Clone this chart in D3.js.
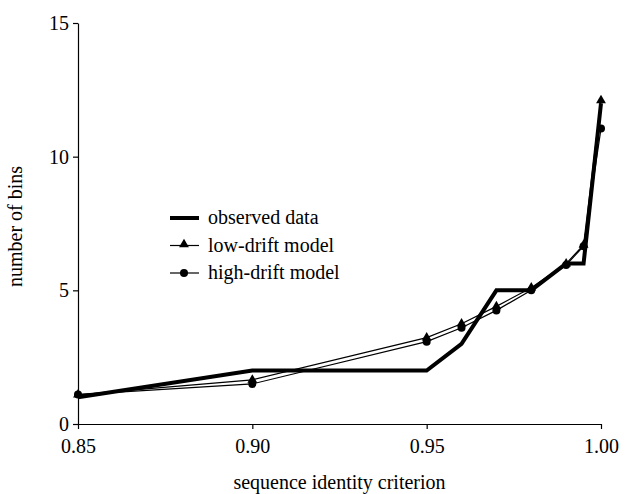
<!DOCTYPE html>
<html>
<head>
<meta charset="utf-8">
<script src="https://cdn.jsdelivr.net/npm/d3@7"></script>
<style>
  body { margin: 0; background: #fff; }
</style>
</head>
<body>
<div id="chart"></div>
<script>
// Data
var criterion = [0.85, 0.90, 0.95, 0.96, 0.97, 0.98, 0.99, 0.995, 1.00];
var observed  = [1, 2, 2, 3, 5, 5, 6, 6, 12];
var lowDrift  = [1.1, 1.65, 3.23, 3.75, 4.4, 5.1, 6.0, 6.7, 12.1];
var highDrift = [1.1, 1.5, 3.08, 3.6, 4.25, 5.0, 5.95, 6.65, 11.05];
var xTicks = [0.85, 0.90, 0.95, 1.00];
var yTicks = [0, 5, 10, 15];

var serif = "'Liberation Serif'";

// Setup
var margin = {top: 23, right: 34, bottom: 70, left: 78},
    width = 635 - margin.left - margin.right,
    height = 494 - margin.top - margin.bottom;

var svg = d3.select("#chart").append("svg")
    .attr("width", 635)
    .attr("height", 494)
  .append("g")
    .attr("transform", "translate(" + margin.left + "," + margin.top + ")");

var scaleX = d3.scaleLinear().domain([0.85, 1.00]).range([0, width]);
var scaleY = d3.scaleLinear().domain([0, 15]).range([height, 0]);

// Axes
var axisX = d3.axisBottom(scaleX).tickValues(xTicks).tickFormat(d3.format(".2f"))
    .tickSizeInner(5).tickSizeOuter(0).tickPadding(5);
var axisY = d3.axisLeft(scaleY).tickValues(yTicks).tickFormat(d3.format("d"))
    .tickSizeInner(5).tickSizeOuter(0).tickPadding(4);

var gx = svg.append("g")
    .attr("transform", "translate(0," + height + ")")
    .call(axisX);
gx.selectAll("text").attr("dy", "0.95em")
    .style("font-family", serif).style("font-size", "20px").attr("fill", "#000");

var gy = svg.append("g").call(axisY);
gy.selectAll("text")
    .style("font-family", serif).style("font-size", "20px").attr("fill", "#000");

svg.selectAll(".domain, .tick line").attr("stroke", "#000").attr("stroke-width", 1.2);

// Axis titles
svg.append("text")
    .attr("x", width / 2)
    .attr("y", height + 65)
    .attr("text-anchor", "middle")
    .style("font-family", serif).style("font-size", "20px")
    .text("sequence identity criterion");

svg.append("text")
    .attr("transform", "translate(-56," + (height / 2 + 3) + ") rotate(-90)")
    .attr("text-anchor", "middle")
    .style("font-family", serif).style("font-size", "20px")
    .text("number of bins");

// Lines
function seriesLine(vals) {
    return d3.line()
        .x(function(d, i) { return scaleX(criterion[i]); })
        .y(function(d) { return scaleY(d); })(vals);
}

svg.append("path").attr("d", seriesLine(lowDrift))
    .attr("fill", "none").attr("stroke", "#000").attr("stroke-width", 1.2);
svg.append("path").attr("d", seriesLine(highDrift))
    .attr("fill", "none").attr("stroke", "#000").attr("stroke-width", 1.2);

var tri = d3.symbol().type(d3.symbolTriangle).size(42);
svg.selectAll("path.tri")
    .data(lowDrift).enter().append("path")
    .attr("class", "tri")
    .attr("d", tri)
    .attr("transform", function(d, i) {
        return "translate(" + scaleX(criterion[i]) + "," + scaleY(d) + ")";
    })
    .attr("fill", "#000");

svg.selectAll("circle.dot")
    .data(highDrift).enter().append("circle")
    .attr("class", "dot")
    .attr("cx", function(d, i) { return scaleX(criterion[i]); })
    .attr("cy", function(d) { return scaleY(d); })
    .attr("r", 4)
    .attr("fill", "#000");

svg.append("path").attr("d", seriesLine(observed))
    .attr("fill", "none").attr("stroke", "#000").attr("stroke-width", 4)
    .attr("stroke-linejoin", "miter");

// Legend
var legend = svg.append("g").attr("transform", "translate(92,195)");
var items = ["observed data", "low-drift model", "high-drift model"];
items.forEach(function(name, i) {
    var g = legend.append("g").attr("transform", "translate(0," + (i * 27.5) + ")");
    g.append("line").attr("x1", 0).attr("x2", 29).attr("y1", 0).attr("y2", 0)
        .attr("stroke", "#000").attr("stroke-width", i === 0 ? 4 : 1.2);
    if (i === 1) {
        g.append("path").attr("d", tri).attr("transform", "translate(14,-1)").attr("fill", "#000");
    }
    if (i === 2) {
        g.append("circle").attr("cx", 14).attr("cy", 0).attr("r", 4).attr("fill", "#000");
    }
    g.append("text").attr("x", 38).attr("y", 6)
        .style("font-family", serif).style("font-size", "20px").text(name);
});
</script>
</body>
</html>
